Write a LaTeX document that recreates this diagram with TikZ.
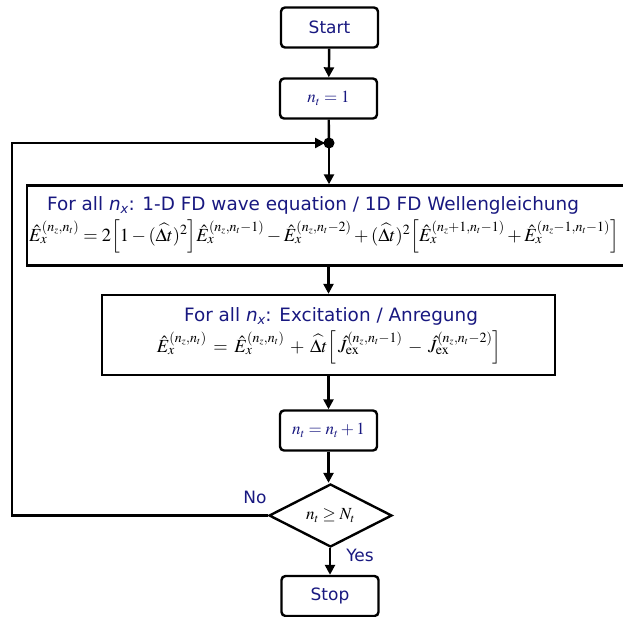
\documentclass[tikz,border=0pt]{standalone}
\usepackage{mathptmx}
\usepackage{amsmath}
\usepackage{fontspec}
\setmainfont{DejaVu Sans}
\DeclareMathSizes{18.5}{18.5}{14}{10}
\DeclareMathSizes{17}{17}{12}{9}
\usetikzlibrary{arrows.meta,shapes.geometric}
\definecolor{txtblue}{RGB}{24,24,128}
\newcommand{\eqsp}{\medmuskip=5.5mu\relax\thickmuskip=6.5mu\relax}
\tikzset{
  line/.style={line width=2.4pt, draw=black},
  arr/.style={line, -{Triangle[length=10pt,width=10pt]}},
  rbox/.style={line, rounded corners=4pt, minimum width=97pt, minimum height=40pt, inner sep=0pt, font=\fontsize{17}{20}\selectfont, text=txtblue},
  sbox/.style={line, minimum width=#1, minimum height=80pt, inner sep=0pt},
  head/.style={font=\fontsize{18.4}{21}\selectfont, text=txtblue, inner sep=0pt},
  eqn/.style={font=\fontsize{18.5}{21}\selectfont, inner sep=0pt},
  lab/.style={font=\fontsize{17}{20}\selectfont, text=txtblue, inner sep=0pt},
  dec/.style={line, shape=diamond, minimum width=123pt, minimum height=63pt, inner sep=0pt, font=\fontsize{17}{20}\selectfont}
}
\newcommand{\nx}{\textit{n}\raisebox{-0.35ex}{\fontsize{13}{14}\selectfont\textit{x}}}
\begin{document}
\begin{tikzpicture}[x=1pt,y=-1pt]
\useasboundingbox (0,0) rectangle (623,616);
\begin{scope}
\clip (0,0) rectangle (623,616);
\node[rbox] (start) at (329.5,27.5) {Start};
\node[rbox] (init) at (328.5,98.5) {$n_t=1$};
\coordinate (dotc) at (329,143);
\fill (dotc) circle (5.5pt);
\node[sbox=598pt] (b1) at (326,225.5) {};
\node[head] (h1) at (313,205) {For all \nx: 1-D FD wave equation / 1D FD Wellengleichung};
\node[eqn, anchor=base west] (e1) at (29,241) {$\hat E_x^{(n_z,n_t)} = 2\Big[1-(\widehat{\Delta t})^2\Big]\hat E_x^{(n_z,n_t-1)} - \hat E_x^{(n_z,n_t-2)} + (\widehat{\Delta t})^2\Big[\hat E_x^{(n_z+1,n_t-1)} + \hat E_x^{(n_z-1,n_t-1)}\Big]$};
\node[sbox=453pt] (b2) at (328.5,335) {};
\node[head] (h2) at (331,316) {For all \nx: Excitation / Anregung};
\node[eqn, anchor=base] (e2) at (329,352) {$\eqsp\hat E_x^{(n_z,n_t)} = \hat E_x^{(n_z,n_t)} + \widehat{\Delta t}\Big[\,\hat J_{\mathrm{ex}}^{(n_z,n_t-1)} - \hat J_{\mathrm{ex}}^{(n_z,n_t-2)}\Big]$};
\node[rbox] (inc) at (328.5,430.5) {$n_t=n_t+1$};
\node[dec] (cond) at (330.5,515.5) {$n_t\ge N_t$};
\node[rbox] (stop) at (330,596) {Stop};
\node[lab] (no) at (255,497) {No};
\node[lab] (yes) at (360,555) {Yes};
\coordinate (cl) at (12,515.5);
\coordinate (cu) at (12,143);
\draw[arr] (start) -- (init);
\draw[line] (init) -- (dotc);
\draw[arr] (dotc) -- (b1.north -| dotc);
\draw[arr] (b1.south -| inc) -- (b2.north -| inc);
\draw[arr] (b2.south -| inc) -- (inc);
\draw[arr] (inc) -- (cond.north -| inc);
\draw[arr] (cond.south -| stop) -- (stop);
\draw[line, line join=miter] (cond.west) -- (cl) -- (cu) -- ([xshift=-4pt]dotc);
\draw[arr] (cu) -- ([xshift=-4pt]dotc);
\end{scope}
\end{tikzpicture}
\end{document}
